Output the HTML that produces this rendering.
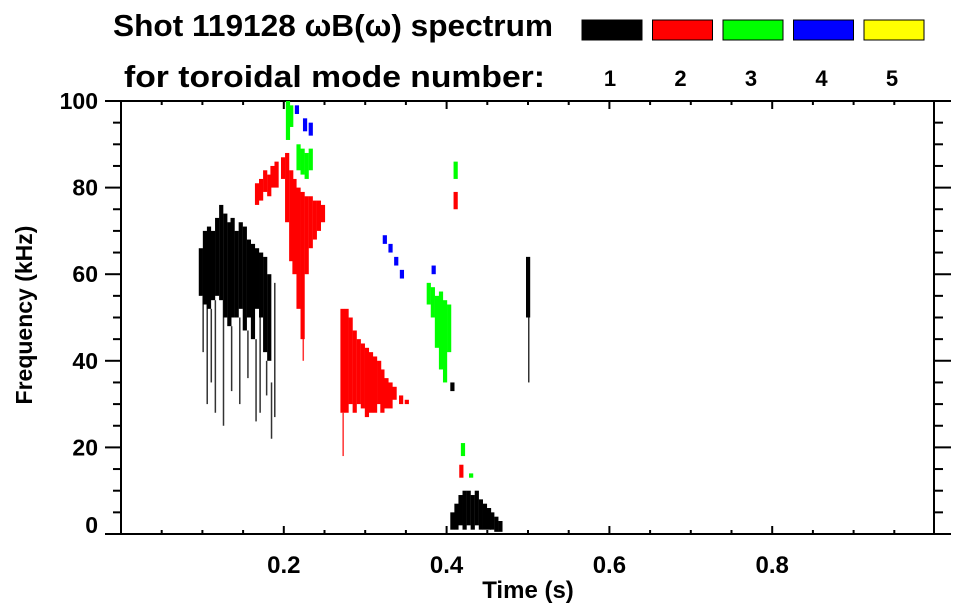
<!DOCTYPE html>
<html><head><meta charset="utf-8"><style>
html,body{margin:0;padding:0;background:#fff;}
svg{display:block;font-family:"Liberation Sans",sans-serif;font-weight:bold;}
</style></head><body>
<svg id="chart" width="963" height="615" viewBox="0 0 963 615">
<text x="113" y="36" font-size="31" textLength="440" lengthAdjust="spacingAndGlyphs">Shot 119128 ωB(ω) spectrum</text>
<text x="124" y="87" font-size="31" textLength="421" lengthAdjust="spacingAndGlyphs">for toroidal mode number:</text>
<g id="legend"></g>
<g id="axes"></g>
<g id="marks"></g>
<text x="528" y="598" font-size="24" text-anchor="middle">Time (s)</text>
<text transform="translate(32,315) rotate(-90)" font-size="23" text-anchor="middle">Frequency (kHz)</text>
</svg>
<script>
const modeNumbers = [1,2,3,4,5];
const modeColors = ["#000000","#ff0000","#00ff00","#0000ff","#ffff00"];
const xTicks = [0.2,0.4,0.6,0.8];
const xTickLabels = ["0.2","0.4","0.6","0.8"];
const yTicks = [0,20,40,60,80,100];
const yTickLabels = ["0","20","40","60","80","100"];
// strips: time (s), low freq, high freq (kHz), mode
const stripTime = [0.098,0.103,0.108,0.113,0.118,0.123,0.128,0.133,0.137,0.142,0.147,0.152,0.157,0.162,0.167,0.172,0.177,0.182,
 0.167,0.172,0.177,0.182,0.186,0.191,0.199,0.204,0.209,0.213,0.218,0.223,0.228,0.233,0.238,0.243,0.248,
 0.205,0.209,0.218,0.223,0.228,0.233,
 0.216,0.226,0.233,
 0.272,0.277,0.282,0.287,0.292,0.297,0.302,0.307,0.312,0.317,0.321,0.326,0.331,0.336,0.344,0.351,
 0.324,0.331,0.338,0.345,
 0.378,0.383,0.388,0.393,0.398,0.403,0.384,
 0.411,0.411,0.407,0.5,
 0.407,0.412,0.417,0.422,0.427,0.432,0.437,0.442,0.447,0.452,0.456,0.461,0.466,
 0.418,0.420,0.430];
const stripLow = [55,53,52,54,55,54,50,48,50,50,52,47,50,45,52,50,42,40,
 76,77,79,78,80,80,82,72,63,60,52,45,60,66,68,70,72,
 91,94,84,83,82,84,
 97,93,92,
 28,28,30,28,30,29,27,28,28,30,28,29,29,31,30,30,
 67,65,62,59,
 53,50,43,38,35,42,60,
 82,75,33,50,
 1,1,2,1,2,1,2,1,1,1,1,0.5,0.5,
 13,18,13];
const stripHigh = [66,70,71,70,73,76,74,72,73,70,72,71,68,67,66,65,64,60,
 81,82,84,83,85,86,87,88,84,82,80,79,78,78,77,77,76,
 100,99,90,89,88,89,
 99,96,95,
 52,52,50,47,45,44,43,42,41,40,38,36,35,34,32,31,
 69,67,64,61,
 58,57,55,56,54,53,62,
 86,79,35,64,
 5,7,9,10,10,9,10,8,7,6,5,4,3,
 16,21,14];
const stripMode = [1,1,1,1,1,1,1,1,1,1,1,1,1,1,1,1,1,1,
 2,2,2,2,2,2,2,2,2,2,2,2,2,2,2,2,2,
 3,3,3,3,3,3,
 4,4,4,
 2,2,2,2,2,2,2,2,2,2,2,2,2,2,2,2,
 4,4,4,4,
 3,3,3,3,3,3,4,
 3,2,1,1,
 1,1,1,1,1,1,1,1,1,1,1,1,1,
 2,3,3];
// thin tails
const tailTime = [0.100,0.105,0.110,0.115,0.125,0.135,0.145,0.155,0.165,0.170,0.178,0.184,0.188,0.223,0.272,0.5];
const tailLow = [42,30,35,28,25,33,30,36,26,28,32,22,27,40,18,35];
const tailHigh = [55,53,52,54,54,48,50,47,45,50,40,35,58,52,28,50];
const tailMode = [1,1,1,1,1,1,1,1,1,1,1,1,1,2,2,1];

const L=121,R=934,T=101,B=534;
const xMin=0,xMax=1,yMin=0,yMax=100;
const xs=t=>L+(t-xMin)/(xMax-xMin)*(R-L+1);
const ys=f=>B-(f-yMin)/(yMax-yMin)*(B-T);
const NS="http://www.w3.org/2000/svg";
function mk(tag,attrs,parent){const e=document.createElementNS(NS,tag);for(const k in attrs)e.setAttribute(k,attrs[k]);parent.appendChild(e);return e;}

const leg=document.getElementById('legend');
modeNumbers.forEach((m,i)=>{
  const x=582+i*70.5;
  const r=mk('rect',{x:x,y:20,width:60,height:20,fill:modeColors[i],stroke:'#000','stroke-width':1},leg);
  
  
  const t=mk('text',{x:x+28,y:86,'font-size':22,'text-anchor':'middle'},leg);
  t.textContent=String(m);
  
  
});

const ax=document.getElementById('axes');
const frame=mk('path',{d:`M${L},${T}V${B}M${R},${T}V${B}M105,${B}H${R}M${L},${T}H951`,stroke:'#000','stroke-width':2,fill:'none'},ax);


for(let f=0;f<=100;f+=5){
  const y=ys(f);const maj=f%20===0;
  mk('line',{x1:L,x2:L-(maj?16:8),y1:y,y2:y,stroke:'#000','stroke-width':2},ax);
  mk('line',{x1:R,x2:R+(maj?17:9),y1:y,y2:y,stroke:'#000','stroke-width':2},ax);
}
for(let k=1;k<20;k++){
  const t=k*0.05;const x=xs(t);const maj=k%4===0;
  mk('line',{x1:x,x2:x,y1:B,y2:B-(maj?8:4),stroke:'#000','stroke-width':2},ax);
  mk('line',{x1:x,x2:x,y1:T,y2:T+(maj?8:4),stroke:'#000','stroke-width':2},ax);
}
yTicks.forEach((v,i)=>{
  const yy = v===0 ? ys(v)-1 : ys(v)+8;
  const t=mk('text',{x:98,y:yy,'font-size':23,'text-anchor':'end'},ax);
  t.textContent=yTickLabels[i];
  
  
});
xTicks.forEach((v,i)=>{
  const t=mk('text',{x:xs(v),y:573,'font-size':24,'text-anchor':'middle'},ax);
  t.textContent=xTickLabels[i];
  
  
});

const mg=document.getElementById('marks');
tailTime.forEach((t,i)=>{
  const r=mk('rect',{x:xs(t),y:ys(tailHigh[i]),width:1.5,height:ys(tailLow[i])-ys(tailHigh[i]),fill:modeColors[tailMode[i]-1],opacity:0.8},mg);
  
  
});
stripTime.forEach((t,i)=>{
  const r=mk('rect',{x:xs(t)-2,y:ys(stripHigh[i]),width:4.2,height:Math.max(1,ys(stripLow[i])-ys(stripHigh[i])),fill:modeColors[stripMode[i]-1]},mg);
  
  
});
</script>
</body></html>
